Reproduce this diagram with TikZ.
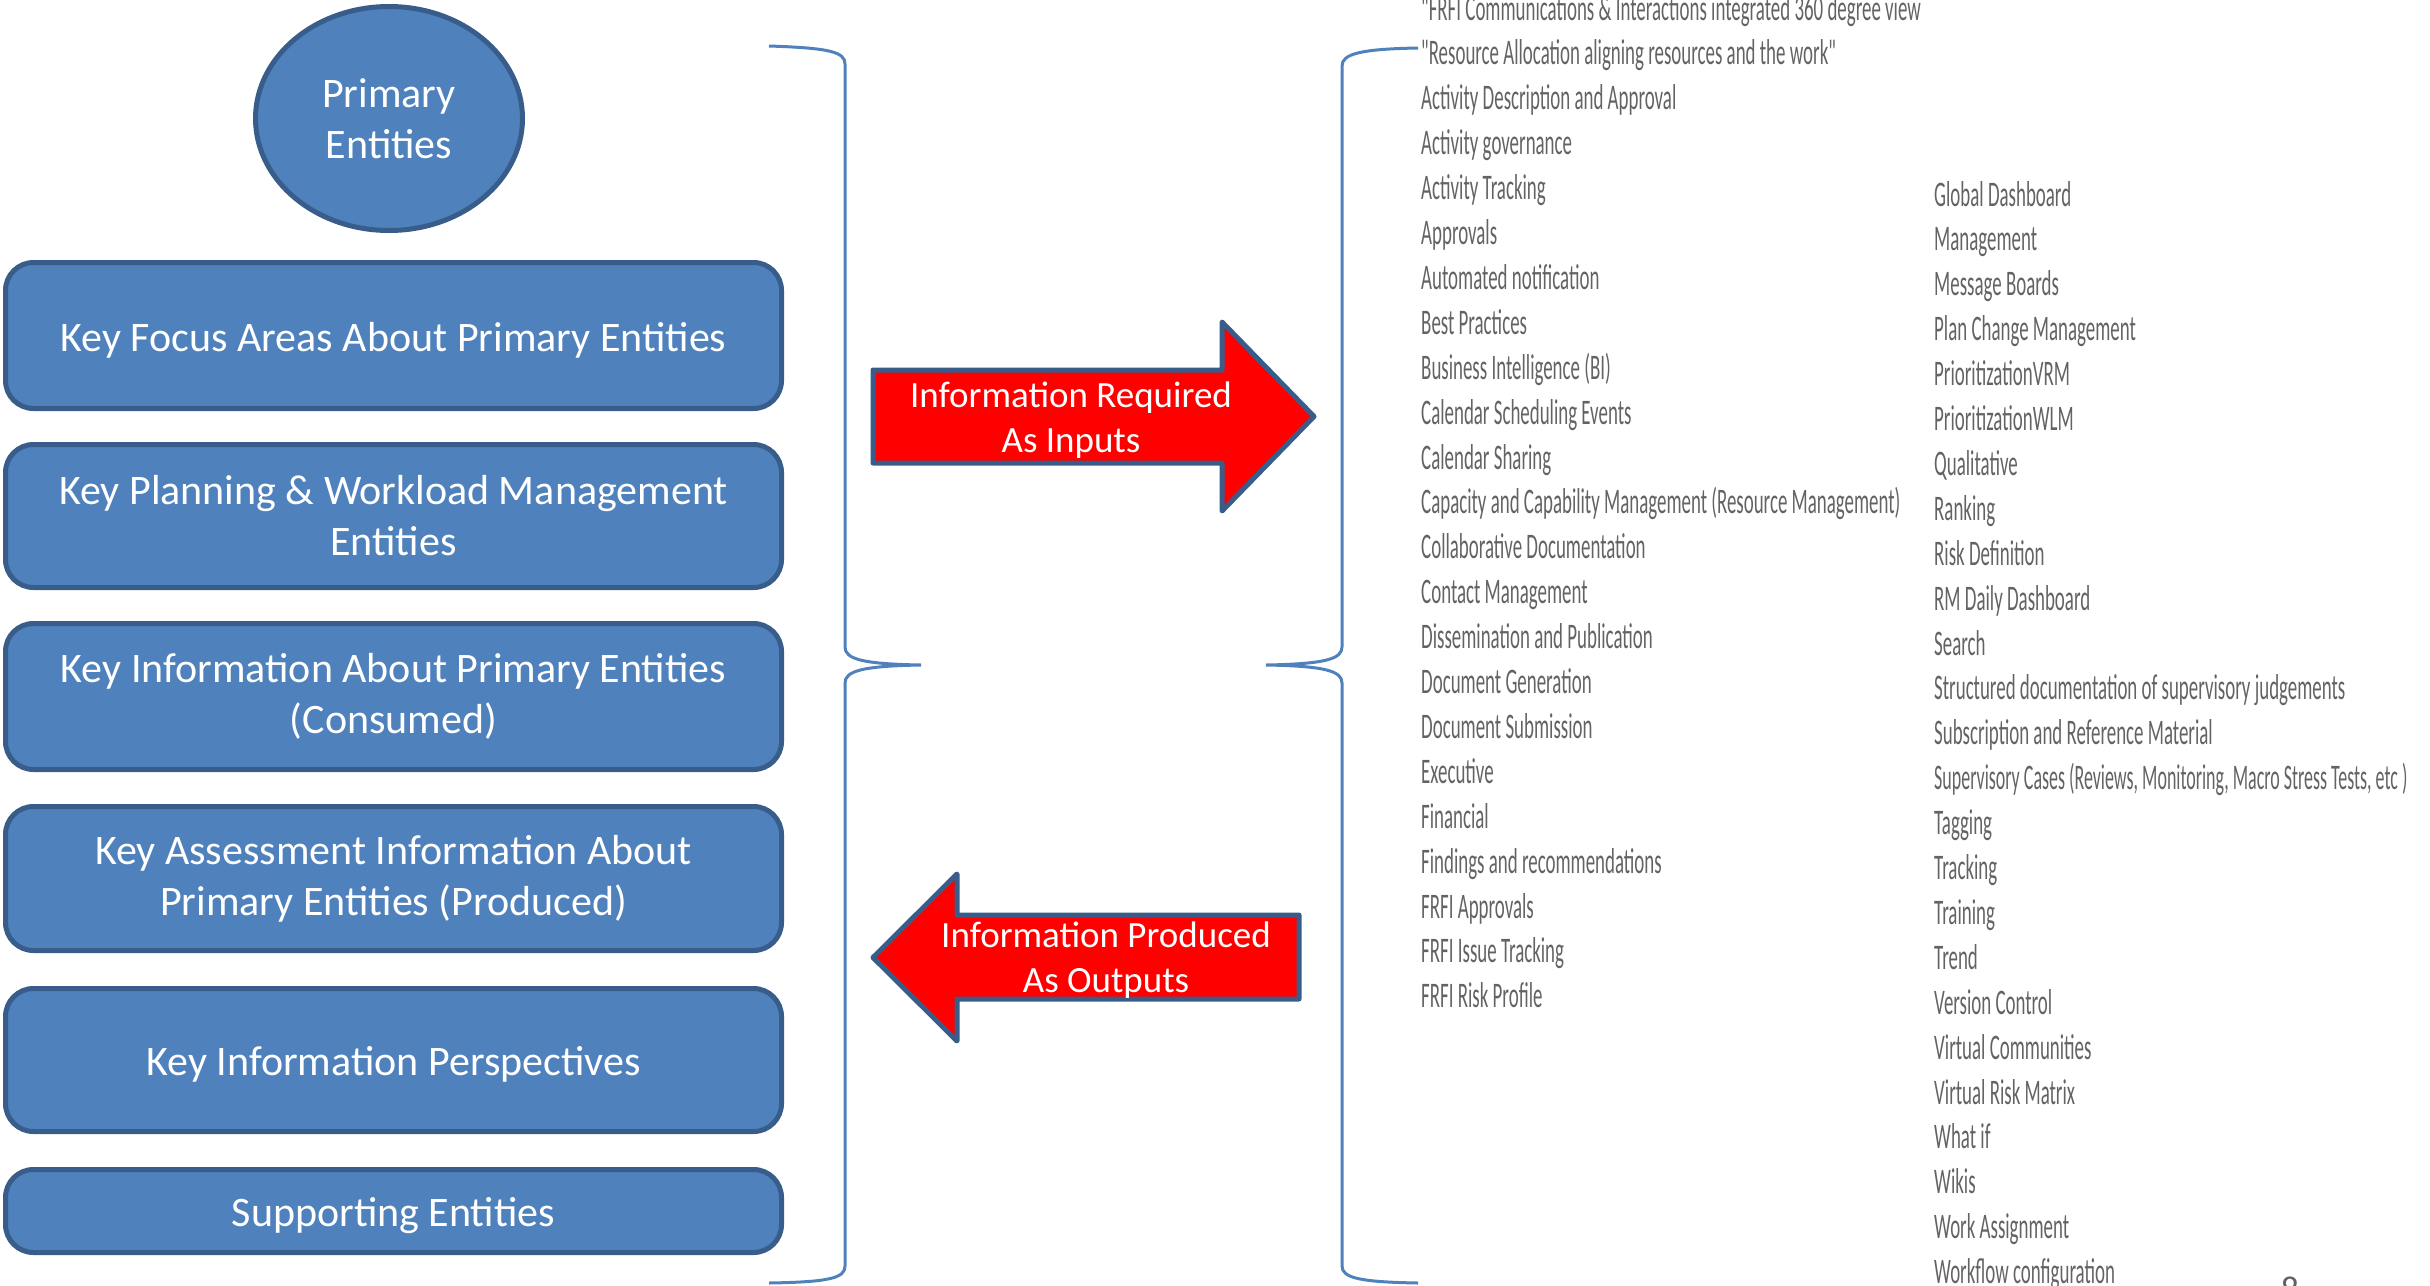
\documentclass[tikz,border=0pt]{standalone}
\usepackage{fontspec}
\setmainfont{Carlito}
\newfontfamily\listfont[FakeStretch=0.525]{Carlito}
\usetikzlibrary{shapes.geometric}
\definecolor{boxfill}{HTML}{4F81BD}
\definecolor{boxline}{HTML}{385D8A}
\definecolor{listgray}{HTML}{636363}
\begin{document}
\begin{tikzpicture}[x=1pt,y=-1pt,
  ebox/.style={draw=boxline, fill=boxfill, line width=5pt, rounded corners=28pt,
    text=white, align=center, font=\fontsize{42}{51}\selectfont,
    minimum width=776pt, inner sep=0pt,
    execute at begin node={\rule{0pt}{38pt}}},
  prim/.style={ellipse, draw=boxline, fill=boxfill, line width=5pt, text=white,
    align=center, font=\fontsize{42}{51}\selectfont,
    minimum width=267pt, minimum height=224pt, inner sep=0pt},
  bigarrow/.style={draw=boxline, fill=red, line width=5pt, line join=round},
  arrowtext/.style={text=white, align=center, font=\fontsize{37}{45}\selectfont, inner sep=0pt},
  brace/.style={draw=boxfill, line width=3pt},
  item/.style={anchor=base west, text=listgray, font=\listfont\fontsize{36}{40}\selectfont, inner sep=0pt}]
\useasboundingbox (0,0) rectangle (2430,1285);

% left column shapes
\node[prim] (pe) at (389,118.5) {Primary\\Entities};
\node[ebox, minimum height=146pt] (b1) at (393.5,335.5) {Key Focus Areas About Primary Entities};
\node[ebox, minimum height=143pt] (b2) at (393.5,516) {Key Planning \& Workload Management\\Entities};
\node[ebox, minimum height=146pt] (b3) at (393.5,696.5) {Key Information About Primary Entities\\(Consumed)};
\node[ebox, minimum height=144pt] (b4) at (393.5,878.5) {Key Assessment Information About\\Primary Entities (Produced)};
\node[ebox, minimum height=143pt] (b5) at (393.5,1060) {Key Information Perspectives};
\node[ebox, minimum height=83pt] (b6) at (393.5,1211) {Supporting Entities};

% left brace
\coordinate (lbt) at (769,46);
\coordinate (lbtip) at (921,665);
\coordinate (lbb) at (769,1283);
\draw[brace] (lbt) .. controls (830,48) and (845,52) .. (845,64)
  -- (845,647) .. controls (845,659) and (862,664) .. (lbtip)
  .. controls (862,666) and (845,671) .. (845,683)
  -- (845,1266) .. controls (845,1278) and (830,1282) .. (lbb);

% right brace
\coordinate (rbt) at (1418,48);
\coordinate (rbtip) at (1266,665);
\coordinate (rbb) at (1418,1283);
\draw[brace] (rbt) .. controls (1360,49) and (1342,54) .. (1342,66)
  -- (1342,647) .. controls (1342,659) and (1325,664) .. (rbtip)
  .. controls (1325,666) and (1342,671) .. (1342,683)
  -- (1342,1266) .. controls (1342,1278) and (1360,1282) .. (rbb);

% arrows
\path[bigarrow] (873,370) -- (1222,370) -- (1222,322) -- (1314,416.5)
  -- (1222,511) -- (1222,463) -- (873,463) -- cycle;
\node[arrowtext] (inputs) at (1071,420) {Information Required\\As Inputs};
\path[bigarrow] (1299,915) -- (957,915) -- (957,874) -- (873,957.5)
  -- (957,1041) -- (957,999) -- (1299,999) -- cycle;
\node[arrowtext] (outputs) at (1106,960) {Information Produced\\As Outputs};

% list, left column
\foreach \t [count=\i from 0] in {
  {"FRFI Communications \& Interactions integrated 360 degree view},
  {"Resource Allocation aligning resources and the work"},
  {Activity Description and Approval},
  {Activity governance},
  {Activity Tracking},
  {Approvals},
  {Automated notification},
  {Best Practices},
  {Business Intelligence (BI)},
  {Calendar Scheduling Events},
  {Calendar Sharing},
  {Capacity and Capability Management (Resource Management)},
  {Collaborative Documentation},
  {Contact Management},
  {Dissemination and Publication},
  {Document Generation},
  {Document Submission},
  {Executive},
  {Financial},
  {Findings and recommendations},
  {FRFI Approvals},
  {FRFI Issue Tracking},
  {FRFI Risk Profile}}
  \node[item] (L\i) at (1421,{20+\i*44.9}) {\t};

% list, right column
\foreach \t [count=\i from 0] in {
  {Global Dashboard},
  {Management},
  {Message Boards},
  {Plan Change Management},
  {PrioritizationVRM},
  {PrioritizationWLM},
  {Qualitative},
  {Ranking},
  {Risk Definition},
  {RM Daily Dashboard},
  {Search},
  {Structured documentation of supervisory judgements},
  {Subscription and Reference Material}}
  \node[item] (R\i) at (1934,{206+\i*44.9}) {\t};
\node[item, xscale=0.95, transform shape] (R13) at (1934,{206+13*44.9})
  {Supervisory Cases (Reviews, Monitoring, Macro Stress Tests, etc )};
\foreach \t [count=\i from 14] in {
  {Tagging},
  {Tracking},
  {Training},
  {Trend},
  {Version Control},
  {Virtual Communities},
  {Virtual Risk Matrix},
  {What if},
  {Wikis},
  {Work Assignment},
  {Workflow configuration}}
  \node[item] (R\i) at (1934,{206+\i*44.9}) {\t};

\node[anchor=north, text=listgray, font=\fontsize{36}{40}\selectfont, inner sep=0pt] (pg) at (2290,1277) {8};
\end{tikzpicture}
\end{document}
